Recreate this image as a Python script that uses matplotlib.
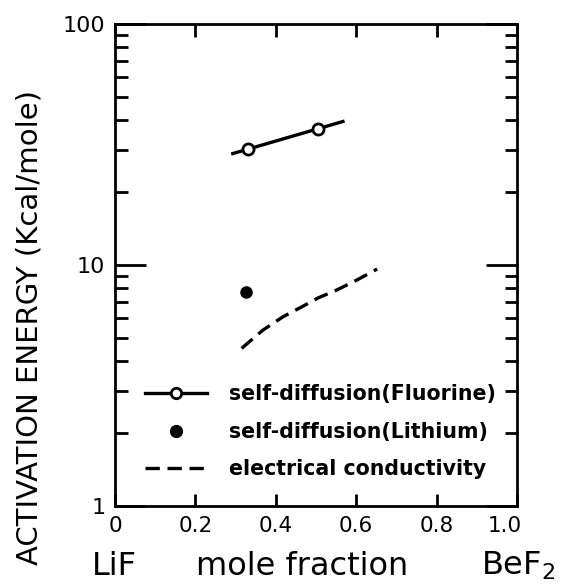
import matplotlib.pyplot as plt
from matplotlib.lines import Line2D
from matplotlib.ticker import FixedLocator, NullFormatter
from matplotlib.transforms import ScaledTranslation

# self-diffusion of fluorine (open circles) and fitted line through them
FLUORINE_X = [0.33, 0.505]
FLUORINE_Y = [30.3, 36.7]
FLUORINE_FIT_X = [0.293, 0.567]
FLUORINE_FIT_Y = [29.0, 39.4]

# self-diffusion of lithium (filled circle)
LITHIUM_X = [0.327]
LITHIUM_Y = [7.75]

# electrical conductivity (dashed curve)
COND_X = [0.315, 0.368, 0.418, 0.465, 0.505, 0.552, 0.602, 0.652]
COND_Y = [4.51, 5.37, 6.10, 6.71, 7.30, 7.88, 8.67, 9.62]

X_TICKS = [0, 0.2, 0.4, 0.6, 0.8, 1.0]
X_TICK_LABELS = ["0", "0.2", "0.4", "0.6", "0.8", "1.0"]
Y_TICKS = [1, 10, 100]
Y_TICK_LABELS = ["1", "10", "100"]

LEGEND_LABELS = [
    "self-diffusion(Fluorine)",
    "self-diffusion(Lithium)",
    "electrical conductivity",
]


def main():
    plt.rcParams["font.family"] = ["DejaVu Sans"]
    fig = plt.figure(figsize=(5.62, 5.85), dpi=100)
    ax = fig.add_axes([0.2046, 0.135, 0.7154, 0.824])

    lw = 2.4
    ax.plot(FLUORINE_FIT_X, FLUORINE_FIT_Y, color="black", lw=lw)
    ax.plot(FLUORINE_X, FLUORINE_Y, "o", ms=8, mfc="white", mec="black", mew=2)
    ax.plot(LITHIUM_X, LITHIUM_Y, "o", ms=8, color="black")
    ax.plot(COND_X, COND_Y, color="black", lw=lw, dashes=(4.3, 2.3))

    ax.set_yscale("log")
    ax.set_xlim(0, 1.0)
    ax.set_ylim(1, 100)

    ax.xaxis.set_major_locator(FixedLocator(X_TICKS))
    ax.set_xticklabels(X_TICK_LABELS)
    ax.yaxis.set_major_locator(FixedLocator(Y_TICKS))
    ax.set_yticklabels(Y_TICK_LABELS)
    ax.yaxis.set_minor_formatter(NullFormatter())

    ax.tick_params(axis="x", which="major", direction="in", top=True, bottom=True,
                   length=9, width=2, labelsize=15.5, pad=7)
    ax.tick_params(axis="y", which="major", direction="in", left=True, right=True,
                   length=22, width=2, labelsize=16, pad=7)
    ax.tick_params(axis="y", which="minor", direction="in", left=True, right=True,
                   length=9, width=2)
    for spine in ax.spines.values():
        spine.set_linewidth(2)

    # the "1.0" label sits a little left of its tick in the original
    last = ax.get_xticklabels()[-1]
    last.set_transform(last.get_transform() + ScaledTranslation(-12 / 100, 0, fig.dpi_scale_trans))

    ax.set_ylabel("ACTIVATION ENERGY (Kcal/mole)", fontsize=21)
    ax.yaxis.set_label_coords(-0.177, 0.371)

    fig.text(0.164, 0.032, "LiF", fontsize=23, ha="left", va="center")
    fig.text(0.537, 0.032, "mole fraction", fontsize=23, ha="center", va="center")
    fig.text(0.856, 0.032, r"BeF$_2$", fontsize=23, ha="left", va="center")

    handles = [
        Line2D([], [], color="black", lw=lw, marker="o", ms=7.5, mfc="white",
               mec="black", mew=2),
        Line2D([], [], color="black", ls="none", marker="o", ms=8.5),
        Line2D([], [], color="black", lw=lw, dashes=(4.3, 2.3)),
    ]
    ax.legend(handles, LEGEND_LABELS, loc="lower left", bbox_to_anchor=(0.054, 0.038),
              frameon=False, handlelength=3.0, handletextpad=1.1, labelspacing=0.86,
              borderaxespad=0, prop={"size": 14.8, "weight": "bold"})

    fig.savefig("out.png", dpi=100, facecolor="white")


if __name__ == "__main__":
    main()
